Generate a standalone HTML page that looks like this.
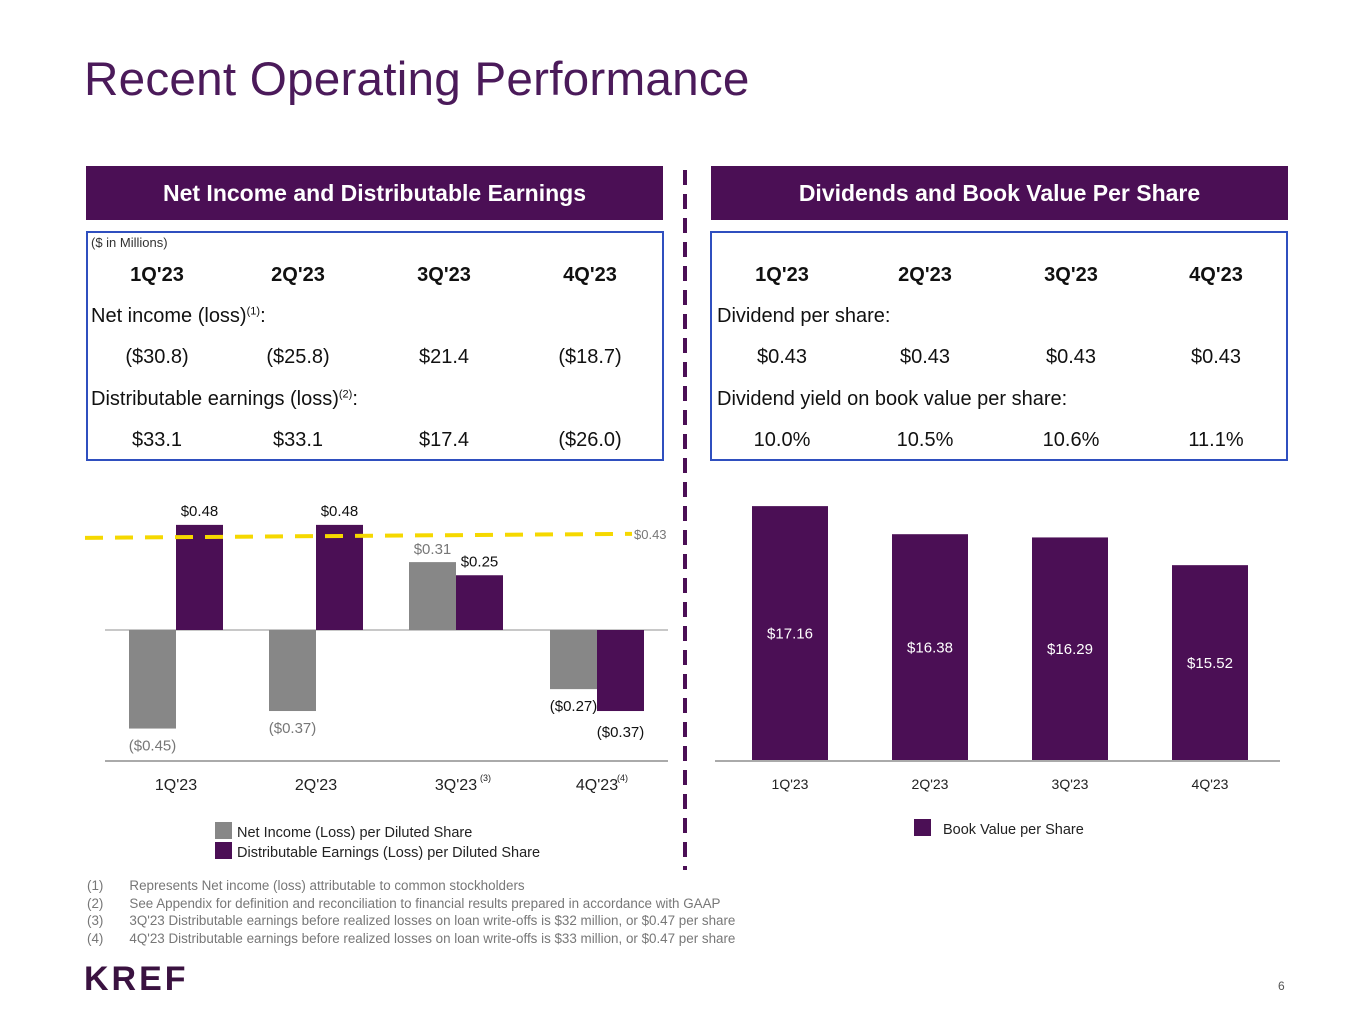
<!DOCTYPE html>
<html><head><meta charset="utf-8">
<style>
*{margin:0;padding:0;box-sizing:border-box}
body{width:1365px;height:1024px;background:#fff;position:relative;overflow:hidden;font-family:"Liberation Sans",sans-serif}
.abs{position:absolute}
.title{left:84px;top:52px;font-size:47.7px;color:#4b1a5a;letter-spacing:0.2px}
.hdr{top:166px;height:54px;background:#4b0f55;color:#fff;font-weight:bold;font-size:23px;text-align:center;line-height:54px}
.box{top:231px;height:230px;border:2px solid #2f4fbf}
.t{font-size:20px;color:#111;white-space:nowrap}
.b{font-weight:bold}
.c{transform:translateX(-50%)}
.foot{font-size:13.4px;color:#777;white-space:nowrap}
sup{font-size:11px}
</style></head><body>
<div class="abs title">Recent Operating Performance</div>

<div class="abs hdr" style="left:86px;width:577px">Net Income and Distributable Earnings</div>
<div class="abs hdr" style="left:711px;width:577px">Dividends and Book Value Per Share</div>

<div class="abs box" style="left:86px;width:578px"></div>
<div class="abs box" style="left:710px;width:578px"></div>

<div class="abs" style="left:91px;top:235px;font-size:13px;color:#333">($ in Millions)</div>
<div id="tables"></div>

<div class="abs" style="left:683px;top:170px;width:4px;height:700px;background:repeating-linear-gradient(to bottom,#4b0f55 0 15px,transparent 15px 24px)"></div>

<svg class="abs" style="left:0;top:0" width="1365" height="1024" id="charts"></svg>

<div class="abs foot" style="left:87px;top:877px;line-height:17.5px">
(1)&nbsp;&nbsp;&nbsp;&nbsp;&nbsp;&nbsp;&nbsp;Represents Net income (loss) attributable to common stockholders<br>
(2)&nbsp;&nbsp;&nbsp;&nbsp;&nbsp;&nbsp;&nbsp;See Appendix for definition and reconciliation to financial results prepared in accordance with GAAP<br>
(3)&nbsp;&nbsp;&nbsp;&nbsp;&nbsp;&nbsp;&nbsp;3Q'23 Distributable earnings before realized losses on loan write-offs is $32 million, or $0.47 per share<br>
(4)&nbsp;&nbsp;&nbsp;&nbsp;&nbsp;&nbsp;&nbsp;4Q'23 Distributable earnings before realized losses on loan write-offs is $33 million, or $0.47 per share</div>
<div class="abs" style="left:84px;top:960px;font-size:34px;font-weight:bold;color:#3a1240;letter-spacing:3px">KREF</div>
<div class="abs" style="left:1278px;top:979px;font-size:12px;color:#555">6</div>

<script>
const quarters=["1Q'23","2Q'23","3Q'23","4Q'23"];
const netIncome=[-0.45,-0.37,0.31,-0.27];
const distEarnings=[0.48,0.48,0.25,-0.37];
const dividendLine=0.43;
const bookValue=[17.16,16.38,16.29,15.52];
const netIncomeM=["($30.8)","($25.8)","$21.4","($18.7)"];
const distM=["$33.1","$33.1","$17.4","($26.0)"];
const divPS=["$0.43","$0.43","$0.43","$0.43"];
const divYield=["10.0%","10.5%","10.6%","11.1%"];
const fmt=v=>v<0?"($"+Math.abs(v).toFixed(2)+")":"$"+v.toFixed(2);

const T=document.getElementById('tables');
function txt(x,y,s,cls,name){const d=document.createElement('div');d.className='abs t '+cls;d.style.left=x+'px';d.style.top=y+'px';d.innerHTML=s;


T.appendChild(d);}
const lc=[157,298,444,590], rc=[782,925,1071,1216];
quarters.forEach((q,i)=>{
 txt(lc[i],264,q,'b c','left-col-'+i);
 txt(lc[i],346,netIncomeM[i],'c','net-income-val');
 txt(lc[i],429,distM[i],'c','dist-earnings-val');
 txt(rc[i],264,q,'b c','right-col-'+i);
 txt(rc[i],346,divPS[i],'c','dividend-val');
 txt(rc[i],429,divYield[i],'c','yield-val');
});
txt(91,305,'Net income (loss)<sup>(1)</sup>:','','net-income-label');
txt(91,388,'Distributable earnings (loss)<sup>(2)</sup>:','','dist-earnings-label');
txt(717,305,'Dividend per share:','','dividend-label');
txt(717,388,'Dividend yield on book value per share:','','yield-label');

const S=document.getElementById('charts'),NS='http://www.w3.org/2000/svg';
function el(t,a,name,txtc){const e=document.createElementNS(NS,t);for(const k in a)e.setAttribute(k,a[k]);if(txtc!==undefined)e.textContent=txtc;


S.appendChild(e);return e;}
const zeroY=630,k=219;
const yL=v=>zeroY-v*k;
const cL=[176,316,456,597],bw=47;
el('line',{x1:105,x2:668,y1:zeroY,y2:zeroY,stroke:'#c8c8c8','stroke-width':2},'zero-line');
el('line',{x1:105,x2:668,y1:761,y2:761,stroke:'#aaa','stroke-width':2},'left-axis-line');
quarters.forEach((q,i)=>{
 const n=netIncome[i],d=distEarnings[i];
 el('rect',{x:cL[i]-bw,y:Math.min(yL(n),zeroY),width:bw,height:Math.abs(yL(n)-zeroY),fill:'#878787'},'bar-net-income');
 el('rect',{x:cL[i],y:Math.min(yL(d),zeroY),width:bw,height:Math.abs(yL(d)-zeroY),fill:'#4b0f55'},'bar-dist-earnings');
 const last=i===3;
 el('text',{x:cL[i]-bw/2,y:n>=0?yL(n)-8:yL(n)+22,'text-anchor':'middle','font-size':15,fill:last?'#111':'#777','font-family':'Liberation Sans'},'net-income-label',fmt(n));
 el('text',{x:cL[i]+bw/2,y:d>=0?yL(d)-9:yL(d)+26,'text-anchor':'middle','font-size':15,fill:'#111','font-family':'Liberation Sans'},'dist-earnings-label',fmt(d));
 el('text',{x:cL[i],y:790,'text-anchor':'middle','font-size':16,fill:'#222','font-family':'Liberation Sans'},'x-tick-label',q);
});
el('text',{x:480,y:781,'font-size':9,fill:'#222'},'footnote-ref','(3)');
el('text',{x:617,y:781,'font-size':9,fill:'#222'},'footnote-ref','(4)');
el('line',{x1:85,x2:632,y1:yL(dividendLine)+2,y2:yL(dividendLine)-2,stroke:'#f5d800','stroke-width':4,'stroke-dasharray':'18 12'},'dividend-line');
el('text',{x:634,y:539,'font-size':13,fill:'#777'},'dividend-line-label',fmt(dividendLine));
el('rect',{x:215,y:822,width:17,height:17,fill:'#878787'},'legend-swatch-net');
el('text',{x:237,y:837,'font-size':14.5,fill:'#222'},'legend-net','Net Income (Loss) per Diluted Share');
el('rect',{x:215,y:842,width:17,height:17,fill:'#4b0f55'},'legend-swatch-dist');
el('text',{x:237,y:857,'font-size':14.5,fill:'#222'},'legend-dist','Distributable Earnings (Loss) per Diluted Share');
const base=761,bmin=10.08,kr=36;
const yR=v=>base-(v-bmin)*kr;
const cR=[790,930,1070,1210],rw=76;
bookValue.forEach((v,i)=>{
 el('rect',{x:cR[i]-rw/2,y:yR(v),width:rw,height:base-yR(v),fill:'#4b0f55'},'bar-book-value');
 el('text',{x:cR[i],y:(yR(v)+base)/2+5,'text-anchor':'middle','font-size':15,fill:'#fff'},'book-value-label',fmt(v));
 el('text',{x:cR[i],y:789,'text-anchor':'middle','font-size':14,fill:'#222'},'x-tick-label',quarters[i]);
});
el('line',{x1:715,x2:1280,y1:base,y2:base,stroke:'#aaa','stroke-width':2},'right-axis-line');
el('rect',{x:914,y:819,width:17,height:17,fill:'#4b0f55'},'legend-swatch-bv');
el('text',{x:943,y:834,'font-size':14.5,fill:'#222'},'legend-bv','Book Value per Share');
</script>
</body></html>
